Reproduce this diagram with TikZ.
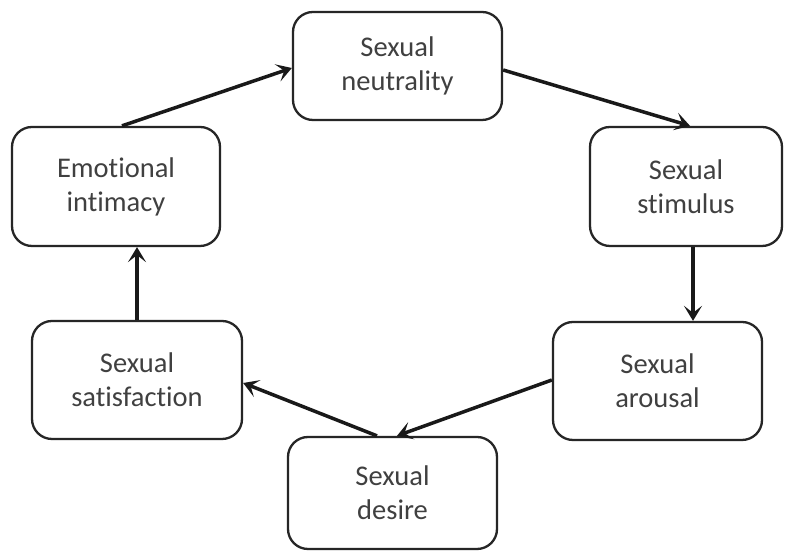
\documentclass[tikz,border=0pt]{standalone}
\usepackage{fontspec}
\setmainfont[Ligatures={NoCommon,NoRare}]{Carlito}
\usetikzlibrary{arrows.meta}
\begin{document}
\begin{tikzpicture}[x=1pt,y=1pt,
  stagebox/.style={draw=black!85, line width=2.3pt, rounded corners=20pt, fill=white,
    align=center, text=black!75, font=\fontsize{28.5}{34}\selectfont, inner sep=0pt},
  flow/.style={line width=3.5pt, draw=black!90, -{Stealth[length=15pt,width=18pt,inset=7pt]}}]
\fill[white] (0,0) rectangle (790,553);
\useasboundingbox (0,0) rectangle (790,553);
\node[stagebox, minimum width=209pt, minimum height=108pt] (neutral) at (397.5,487) {Sexual\\neutrality};
\node[stagebox, minimum width=192pt, minimum height=119pt] (stimulus) at (686,366.5) {Sexual\\stimulus};
\node[stagebox, minimum width=209pt, minimum height=118pt] (arousal) at (657.5,172) {Sexual\\arousal};
\node[stagebox, minimum width=209pt, minimum height=112pt] (desire) at (392.5,60) {Sexual\\desire};
\node[stagebox, minimum width=210pt, minimum height=118pt] (satisf) at (137,173) {Sexual\\satisfaction};
\node[stagebox, minimum width=208pt, minimum height=119pt] (intimacy) at (116,366.5) {Emotional\\intimacy};
\draw[flow] ([xshift=6pt]intimacy.north) -- ([yshift=-2pt]neutral.west);
\draw[flow] ([yshift=-4pt]neutral.east) -- ([xshift=4pt]stimulus.north);
\draw[flow] ([xshift=7pt]stimulus.south) -- ([xshift=7pt]stimulus.south |- arousal.north);
\draw[flow] ([yshift=1pt]arousal.west) -- ([xshift=4.5pt]desire.north);
\draw[flow] ([xshift=-15.5pt]desire.north) -- ([yshift=-3pt]satisf.east);
\draw[flow] (satisf.north) -- (satisf.north |- intimacy.south);
\end{tikzpicture}
\end{document}
